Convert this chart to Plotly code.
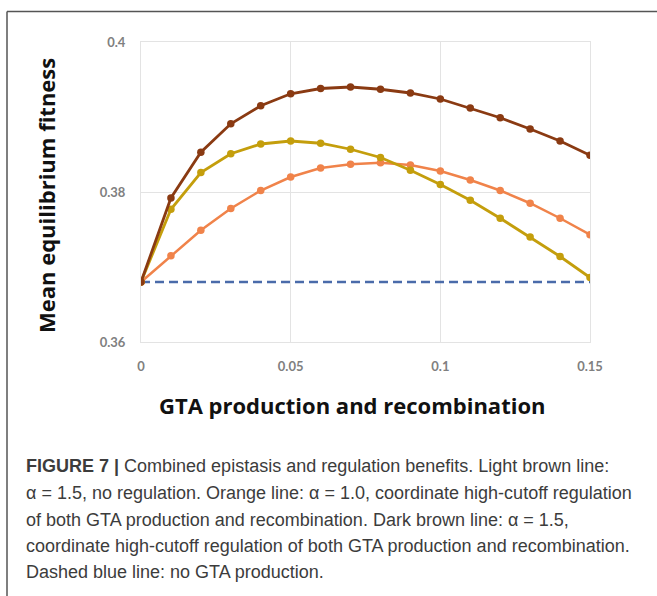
import plotly.graph_objects as go

# GTA production / recombination rate
rates = [0.00, 0.01, 0.02, 0.03, 0.04, 0.05, 0.06, 0.07,
         0.08, 0.09, 0.10, 0.11, 0.12, 0.13, 0.14, 0.15]

# Mean equilibrium fitness for each scenario
light_brown = [0.3680, 0.3777, 0.3826, 0.3851, 0.3864, 0.3868, 0.3865, 0.3857,
               0.3846, 0.3829, 0.3810, 0.3789, 0.3765, 0.3740, 0.3714, 0.3686]
orange = [0.3680, 0.3715, 0.3749, 0.3778, 0.3802, 0.3820, 0.3832, 0.3837,
          0.3839, 0.3836, 0.3828, 0.3816, 0.3802, 0.3785, 0.3765, 0.3743]
dark_brown = [0.3680, 0.3792, 0.3853, 0.3891, 0.3915, 0.3931, 0.3938, 0.3940,
              0.3937, 0.3932, 0.3924, 0.3912, 0.3899, 0.3884, 0.3868, 0.3849]
no_gta = [0.3680] * len(rates)

x_ticks = [0, 0.05, 0.1, 0.15]
x_tick_text = ["0", "0.05", "0.1", "0.15"]
y_ticks = [0.36, 0.38, 0.40]
y_tick_text = ["0.36", "0.38", "0.4"]

caption_lines = [
    "<b>FIGURE 7 |</b> Combined epistasis and regulation benefits. Light brown line:",
    "\u03b1 = 1.5, no regulation. Orange line: \u03b1 = 1.0, coordinate high-cutoff regulation",
    "of both GTA production and recombination. Dark brown line: \u03b1 = 1.5,",
    "coordinate high-cutoff regulation of both GTA production and recombination.",
    "Dashed blue line: no GTA production.",
]

W, H = 657, 596
PL, PR, PT, PB = 141, 590, 42, 342  # plot area in pixels


def px(x):
    return (x - PL) / (PR - PL)


def py(y):
    return (PB - y) / (PB - PT)


fig = go.Figure()

fig.add_trace(go.Scatter(
    x=rates, y=no_gta, mode="lines",
    line=dict(color="#4A6BAA", width=2.5, dash="9px,5px"),
))
fig.add_trace(go.Scatter(
    x=rates, y=orange, mode="lines+markers",
    line=dict(color="#F0834A", width=2.5),
    marker=dict(color="#F0834A", size=7.5),
))
fig.add_trace(go.Scatter(
    x=rates, y=light_brown, mode="lines+markers",
    line=dict(color="#C49E0C", width=2.8),
    marker=dict(color="#C49E0C", size=7.5),
))
fig.add_trace(go.Scatter(
    x=rates, y=dark_brown, mode="lines+markers",
    line=dict(color="#8A3A12", width=2.8),
    marker=dict(color="#8A3A12", size=7.5),
))

grid = "#E3E3E3"
tick_font = dict(family="Lato", size=13, color="#808080", weight="bold")

fig.update_xaxes(
    range=[0, 0.15], tickvals=x_ticks, ticktext=x_tick_text,
    showgrid=True, gridcolor=grid, gridwidth=1,
    showline=True, linecolor=grid, linewidth=1, mirror=True,
    zeroline=False, ticks="outside", ticklen=12, tickcolor="rgba(0,0,0,0)",
    tickfont=tick_font,
)
fig.update_yaxes(
    range=[0.36, 0.40], tickvals=y_ticks, ticktext=y_tick_text,
    showgrid=True, gridcolor=grid, gridwidth=1,
    showline=True, linecolor=grid, linewidth=1, mirror=True,
    zeroline=False, ticks="outside", ticklen=12, tickcolor="rgba(0,0,0,0)",
    tickfont=tick_font,
)

title_font = dict(family="Open Sans", size=22, color="#111111", weight="bold")
annotations = [
    dict(text="GTA production and recombination", x=px(352), y=py(405),
         xref="paper", yref="paper", showarrow=False, xanchor="center", yanchor="middle",
         font=title_font),
    dict(text="Mean equilibrium fitness", x=px(46), y=py(196), textangle=-90,
         xref="paper", yref="paper", showarrow=False, xanchor="center", yanchor="middle",
         font=title_font),
]
line_y = [466, 493, 520, 546, 572]
for text, ly in zip(caption_lines, line_y):
    annotations.append(dict(
        text=text, x=px(24), y=py(ly), xref="paper", yref="paper",
        showarrow=False, xanchor="left", yanchor="middle", align="left",
        font=dict(family="Liberation Sans", size=18, color="#3C3C3C"),
    ))

shapes = [
    dict(type="line", xref="paper", yref="paper",
         x0=px(7), y0=py(11.5), x1=px(700), y1=py(11.5),
         line=dict(color="#555555", width=1.5)),
    dict(type="line", xref="paper", yref="paper",
         x0=px(7), y0=py(11.5), x1=px(7), y1=py(640),
         line=dict(color="#555555", width=1.5)),
]

fig.update_layout(
    width=W, height=H,
    margin=dict(l=PL, r=W - PR, t=PT, b=H - PB),
    plot_bgcolor="white", paper_bgcolor="white",
    showlegend=False,
    annotations=annotations, shapes=shapes,
)

fig.write_html("out.html")
